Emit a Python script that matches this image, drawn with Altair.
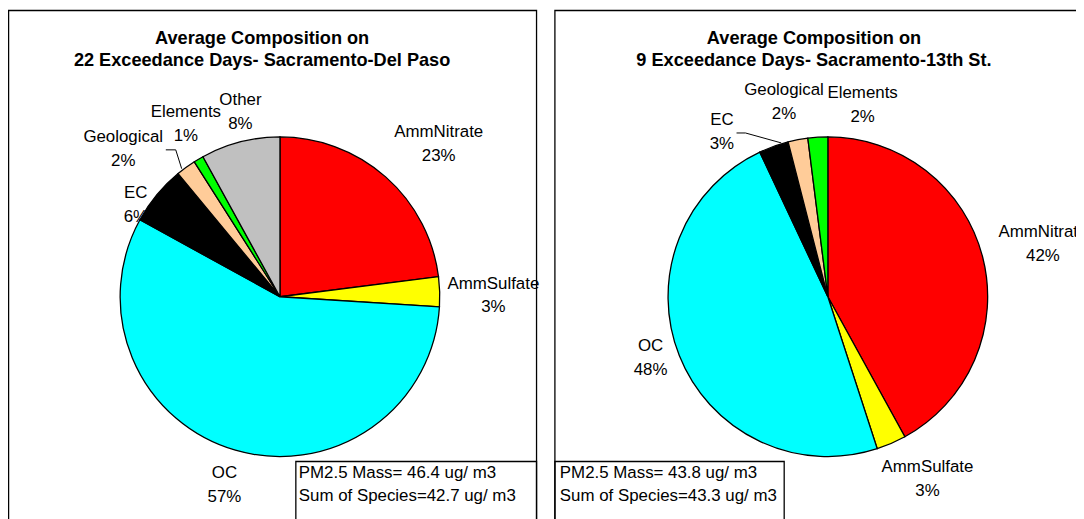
import altair as alt
import pandas as pd

# ---------------- data ----------------
species_left = ["AmmNitrate", "AmmSulfate", "OC", "EC", "Geological", "Elements", "Other"]
pct_left = [23, 3, 57, 6, 2, 1, 8]

species_right = ["AmmNitrate", "AmmSulfate", "OC", "EC", "Geological", "Elements"]
pct_right = [42, 3, 48, 3, 2, 2]

title_left = ["Average Composition on", "22 Exceedance Days- Sacramento-Del Paso"]
title_right = ["Average Composition on", "9 Exceedance Days- Sacramento-13th St."]
note_left = ["PM2.5 Mass= 46.4 ug/ m3", "Sum of Species=42.7 ug/ m3"]
note_right = ["PM2.5 Mass= 43.8 ug/ m3", "Sum of Species=43.3 ug/ m3"]

category_order = ["AmmNitrate", "AmmSulfate", "OC", "EC", "Geological", "Elements", "Other"]
category_colors = ["#FF0000", "#FFFF00", "#00FFFF", "#000000", "#FFCC99", "#00FF00", "#C0C0C0"]

# ---------------- label layout (angular nudge in degrees, distance from centre in px) ----------------
nudge_left = [4.7, 1.5, 0.2, -7.2, -10.7, 2.0, 2.3]
dist_left = [222, 215, 198, 172, 217, 198, 190]
nudge_right = [0.7, -5.3, 2.5, -13.0, -1.9, 13.9]
dist_right = [223, 209, 189, 197, 201, 196]

FONT = "Liberation Sans"
OFF = 8  # page margin
W, H = 1076, 511
R = 161
LH = 24

theta_scale = alt.Scale(domain=[0, 100])
color_scale = alt.Scale(domain=category_order, range=category_colors)


def pie(species, pct, nudge, dist, cx, cy):
    df = pd.DataFrame({"species": species, "pct": pct, "idx": list(range(len(species)))})
    cum = df["pct"].cumsum()
    df["mid"] = cum - df["pct"] / 2 + pd.Series(nudge) / 3.6
    df["dist"] = dist
    df["label"] = df["species"] + "\n" + df["pct"].astype(str) + "%"
    arcs = alt.Chart(df).mark_arc(outerRadius=R, stroke="black", strokeWidth=1.3).encode(
        theta=alt.Theta("pct:Q", stack=True, scale=theta_scale),
        color=alt.Color("species:N", scale=color_scale, legend=None),
        order=alt.Order("idx:Q"),
        x=alt.value(cx - OFF),
        y=alt.value(cy - OFF),
    )
    labels = alt.Chart(df).mark_text(
        font=FONT, fontSize=17, lineBreak="\n", lineHeight=LH, dy=-LH / 2,
        align="center", baseline="middle", color="black",
    ).encode(
        theta=alt.Theta("mid:Q", stack=False, scale=theta_scale),
        radius=alt.Radius("dist:Q", scale=None),
        text="label:N",
        x=alt.value(cx - OFF),
        y=alt.value(cy - OFF),
    )
    return [arcs, labels]


def text_block(lines, x, y_first, align, size, weight="normal", lh=23):
    df = pd.DataFrame({"t": ["\n".join(lines)]})
    return alt.Chart(df).mark_text(
        font=FONT, fontSize=size, fontWeight=weight, lineBreak="\n", lineHeight=lh,
        align=align, baseline="middle", color="black",
    ).encode(text="t:N", x=alt.value(x - OFF), y=alt.value(y_first - OFF))


def frame(x1, y1, x2, y2):
    df = pd.DataFrame({"k": [0]})
    return alt.Chart(df).mark_rect(filled=False, stroke="black", strokeWidth=1.3).encode(
        x=alt.value(x1 - OFF), x2=alt.value(x2 - OFF),
        y=alt.value(y1 - OFF), y2=alt.value(y2 - OFF),
    )


def leader(pts):
    out = []
    df = pd.DataFrame({"k": [0]})
    for (a, b), (c, d) in zip(pts[:-1], pts[1:]):
        out.append(alt.Chart(df).mark_rule(color="black", strokeWidth=1).encode(
            x=alt.value(a - OFF), y=alt.value(b - OFF),
            x2=alt.value(c - OFF), y2=alt.value(d - OFF)))
    return out


layers = []
# panel borders
layers.append(frame(8.6, 8.6, 540.5, 540))
layers.append(frame(559, 8.6, 1100, 540))
# pies
layers += pie(species_left, pct_left, nudge_left, dist_left, 282, 297)
layers += pie(species_right, pct_right, nudge_right, dist_right, 834, 297)
# leader lines
layers += leader([(167, 149), (177, 149), (183, 168)])
layers += leader([(742, 132), (751, 132), (787, 142)])
# titles
layers.append(text_block(title_left, 264, 37, "center", 18.3, "bold"))
layers.append(text_block(title_right, 820, 37, "center", 18.3, "bold"))
# notes boxes
layers.append(frame(298, 463, 540.5, 540))
layers.append(frame(559, 463, 790, 540))
layers.append(text_block(note_left, 301, 475, "left", 17))
layers.append(text_block(note_right, 564, 475, "left", 17))

chart = alt.layer(*layers).properties(
    width=W, height=H,
    autosize=alt.AutoSizeParams(type="none"),
    padding=0,
).configure_view(strokeWidth=0)

chart.save("out.html", embed_options={"renderer": "svg", "actions": False})
